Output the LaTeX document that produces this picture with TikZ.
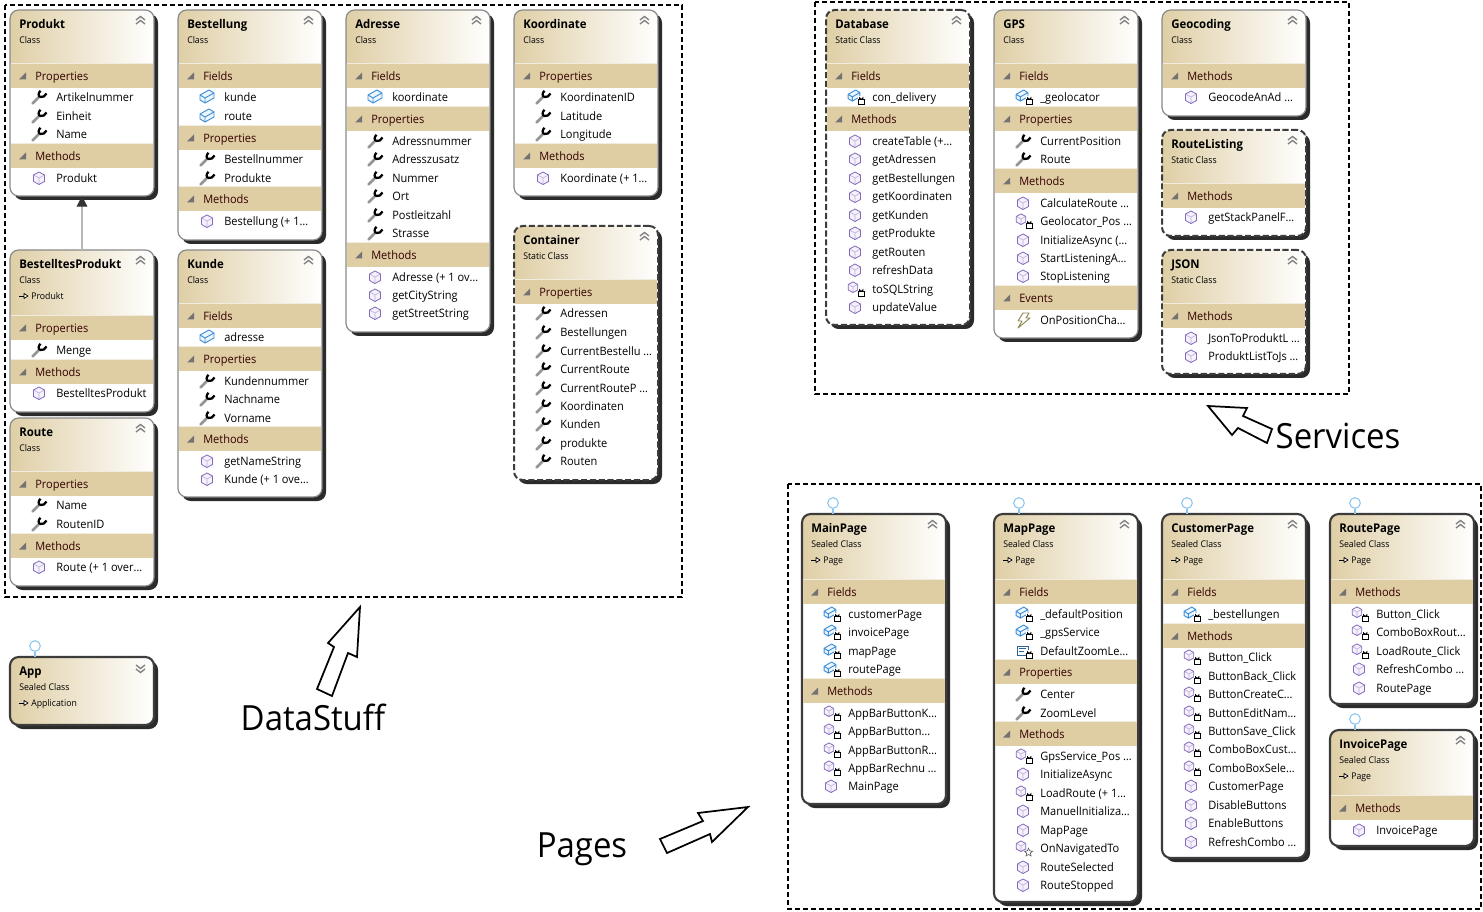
\documentclass[tikz,border=0pt]{standalone}
\usepackage{fontspec}
\setmainfont[FakeStretch=0.95]{Open Sans}
\usetikzlibrary{arrows.meta,shapes.geometric}
\definecolor{hdr}{HTML}{DFCFA6}
\definecolor{bar}{HTML}{DFCEA4}
\definecolor{barline}{HTML}{F1ECDD}
\definecolor{shad}{HTML}{2B2B2B}
\definecolor{edgeN}{HTML}{8A8A8A}
\definecolor{edgeS}{HTML}{3C3C3C}
\definecolor{cubeC}{HTML}{8468BC}
\definecolor{cubeF}{HTML}{F6F2FB}
\definecolor{fieldC}{HTML}{3F8FD8}
\definecolor{fieldF}{HTML}{EEF6FD}
\definecolor{lolC}{HTML}{8CC6F0}
\tikzset{
 ucnormal/.style={draw=edgeN,line width=.9pt},
 ucsealed/.style={draw=edgeS,line width=1.6pt},
 ucstatic/.style={draw=edgeS,line width=1.5pt,dash pattern=on 4.6pt off 2pt},
 frameline/.style={draw=black,line width=1.1pt,dash pattern=on 3.8pt off 2.2pt},
 bigarrow/.style={draw=black,line width=1.3pt,fill=white,line join=miter},
 titletext/.style={anchor=base west,inner sep=0,font=\fontsize{9pt}{10pt}\selectfont\bfseries},
 subtext/.style={anchor=base west,inner sep=0,font=\fontsize{6.9pt}{8pt}\selectfont},
 sectext/.style={anchor=base west,inner sep=0,text=black!80!red,font=\fontsize{8.7pt}{10pt}\selectfont},
 itemtext/.style={anchor=base west,inner sep=0,font=\fontsize{8.7pt}{10pt}\selectfont},
 bigtext/.style={inner sep=0,font=\fontsize{26pt}{30pt}\selectfont},
 lolli/.style={circle,draw=lolC,line width=.8pt,fill=white,minimum size=8pt,inner sep=0},
}
% icons (coordinates in px about the icon centre)
\newcommand\icoCube{%
 \fill[cubeF] (0,-6)--(5.5,-3)--(5.5,3.5)--(0,6.5)--(-5.5,3.5)--(-5.5,-3)--cycle;
 \draw[cubeC!55,line width=.45pt] (-5.5,-3)--(0,0)--(5.5,-3) (0,0)--(0,6.5);
 \draw[cubeC,line width=.6pt,line join=round] (0,-6)--(5.5,-3)--(5.5,3.5)--(0,6.5)--(-5.5,3.5)--(-5.5,-3)--cycle;}
\newcommand\icoField{%
 \fill[fieldF] (-7,-2)--(2,-7)--(7,-4)--(7,1)--(-2,6)--(-7,3)--cycle;
 \draw[fieldC,line width=.7pt,line join=round] (-7,-2)--(2,-7)--(7,-4)--(7,1)--(-2,6)--(-7,3)--cycle (-7,-2)--(-2,1)--(7,-4) (-2,1)--(-2,6);}
\newcommand\icoLock{%
 \fill[white] (2.5,-1) rectangle (10,8);
 \draw[black,line width=.7pt] (3.5,2) rectangle (9,7);
 \draw[black,line width=.65pt] (4.6,2)--(4.6,.8) arc[start angle=180,end angle=0,radius=1.65]--(7.9,2);}
\newcommand\ucrw[4]{\begin{scope}[shift={(#2+29,#3)}]
 \draw[black!42,line width=1.9pt,line cap=round] (-6.5,6.5)--(-.5,.5);
 \draw[black,line width=1.7pt] (1.5,-6.2) .. controls (-1,-4) and (-1,-.5) .. (1.5,0) .. controls (4,.8) and (6,-1) .. (7.5,-3.5);
 \end{scope}\uclabel{#1}{#2}{#3}{#4}}
\newcommand\ucrm[4]{\begin{scope}[shift={(#2+29,#3)}]\icoCube\end{scope}\uclabel{#1}{#2}{#3}{#4}}
\newcommand\ucrf[4]{\begin{scope}[shift={(#2+29,#3)}]\icoField\end{scope}\uclabel{#1}{#2}{#3}{#4}}
\newcommand\ucrfp[4]{\begin{scope}[shift={(#2+28,#3-1)},scale=.85]\icoField\end{scope}\begin{scope}[shift={(#2+29,#3)}]\icoLock\end{scope}\uclabel{#1}{#2}{#3}{#4}}
\newcommand\ucrmp[4]{\begin{scope}[shift={(#2+27,#3-2)},scale=.85]\icoCube\end{scope}\begin{scope}[shift={(#2+29,#3)}]\icoLock\end{scope}\uclabel{#1}{#2}{#3}{#4}}
\newcommand\ucrmo[4]{\begin{scope}[shift={(#2+27,#3-2)},scale=.85]\icoCube\end{scope}\begin{scope}[shift={(#2+29,#3)}]
 \node[star,star points=5,star point ratio=2.2,draw=black!65,fill=white,line width=.45pt,inner sep=0,minimum size=6.5pt] (#1-star) at (5.5,4.5) {};\end{scope}\uclabel{#1}{#2}{#3}{#4}}
\newcommand\ucrcp[4]{\begin{scope}[shift={(#2+29,#3)}]
 \draw[fieldC!70!black,line width=.7pt] (-6,-5) rectangle (5,4);
 \draw[fieldC!70!black,line width=.6pt] (-4,-2.5)--(3,-2.5) (-4,.5)--(1,.5);\icoLock\end{scope}\uclabel{#1}{#2}{#3}{#4}}
\newcommand\ucre[4]{\begin{scope}[shift={(#2+29,#3)}]
 \draw[black!55!yellow!80!brown,line width=.7pt,line join=round] (0,-7)--(6,-7)--(3,-2)--(7,-2)--(-5,8)--(-1,1)--(-5,1)--cycle;
 \end{scope}\uclabel{#1}{#2}{#3}{#4}}
\newcommand\uclabel[4]{\node[itemtext] (#1-#3) at (#2+46,#3+4.6) {#4};}
\newcommand\ucrS[4]{%
 \fill[bar] (#2+1,#3-12) rectangle (#2+143,#3+12);
 \fill[barline] (#2+1,#3-13.2) rectangle (#2+143,#3-11.8);
 \fill[black!55] (#2+9,#3+3.5)--(#2+16,#3+3.5)--(#2+16,#3-3.5)--cycle;
 \node[sectext] (#1-#3) at (#2+25,#3+4.6) {#4};}
\newcommand\ucrows[3]{\foreach \kk/\yy/\tx in {#3}{\csname ucr\kk\endcsname{#1}{#2}{\yy}{\tx}}}
% box: id, x1, y1, y2, header bottom, title, sub, parent, kind
\newcommand\ucbox[9]{%
 \fill[shad,rounded corners=6.5pt] (#2+4,#3+4) rectangle (#2+148,#4+4);
 \begin{scope}
  \clip[rounded corners=6.5pt] (#2,#3) rectangle (#2+144,#4);
  \fill[white] (#2,#3) rectangle (#2+144,#4);
  \shade[left color=hdr,right color=white] (#2,#3) rectangle (#2+144,#5);
 \end{scope}
 \node[#9,rounded corners=6.5pt,inner sep=0,outer sep=0,minimum width=108pt,minimum height={(#4-#3)*0.75pt}] (#1) at (#2+72,{(#3+#4)/2}) {};
 \node[titletext] (#1-title) at (#2+9,#3+18.6) {#6};
 \node[subtext] (#1-sub) at (#2+9,#3+33.5) {#7};
 \if\relax\detokenize{#8}\relax\else
  \draw[black,line width=.55pt] (#2+9,#3+46)--(#2+14,#3+46);
  \draw[black,line width=.55pt,fill=white,line join=round] (#2+14,#3+43.5)--(#2+18,#3+46)--(#2+14,#3+48.5)--cycle;
  \node[subtext] (#1-parent) at (#2+21,#3+49.5) {#8};
 \fi
 \ifnum#4=#5\relax
  \draw[black!50,line width=1pt] (#2+126,#3+8)--(#2+130.5,#3+11.5)--(#2+135,#3+8) (#2+126,#3+12)--(#2+130.5,#3+15.5)--(#2+135,#3+12);
 \else
  \draw[black!50,line width=1pt] (#2+126,#3+10)--(#2+130.5,#3+6.5)--(#2+135,#3+10) (#2+126,#3+14)--(#2+130.5,#3+10.5)--(#2+135,#3+14);
 \fi
}
\newcommand\uclolli[3]{%
 \node[lolli] (#1-lol) at (#2,#3-11) {};
 \draw[lolC,line width=.8pt] (#1-lol.south)--(#2,#3);}
\begin{document}
\begin{tikzpicture}[x=.75pt,y=-.75pt]
\useasboundingbox (0,0) rectangle (1483,912);
\fill[white] (0,0) rectangle (1483,912);
% DataStuff
\ucbox{produkt}{10}{10}{196}{64}{Produkt}{Class}{}{ucnormal}
\ucrows{produkt}{10}{S/76/Properties,w/97/Artikelnummer,w/116/Einheit,w/134/Name,S/156/Methods,m/178/Produkt}
\ucbox{bestellung}{178}{10}{240}{64}{Bestellung}{Class}{}{ucnormal}
\ucrows{bestellung}{178}{S/76/Fields,f/97/kunde,f/116/route,S/138/Properties,w/159/Bestellnummer,w/178/Produkte,S/199/Methods,m/221/Bestellung (+ 1…}
\ucbox{adresse}{346}{10}{332}{64}{Adresse}{Class}{}{ucnormal}
\ucrows{adresse}{346}{S/76/Fields,f/97/koordinate,S/119/Properties,w/141/Adressnummer,w/159/Adresszusatz,w/178/Nummer,w/196/Ort,w/215/Postleitzahl,w/233/Strasse,S/255/Methods,m/277/Adresse (+ 1 ov…,m/295/getCityString,m/313/getStreetString}
\ucbox{koordinate}{514}{10}{196}{64}{Koordinate}{Class}{}{ucnormal}
\ucrows{koordinate}{514}{S/76/Properties,w/97/KoordinatenID,w/116/Latitude,w/134/Longitude,S/156/Methods,m/178/Koordinate (+ 1…}
\ucbox{bestelltes}{10}{250}{412}{316}{BestelltesProdukt}{Class}{Produkt}{ucnormal}
\ucrows{bestelltes}{10}{S/328/Properties,w/350/Menge,S/372/Methods,m/393/BestelltesProdukt}
\ucbox{kunde}{178}{250}{497}{304}{Kunde}{Class}{}{ucnormal}
\ucrows{kunde}{178}{S/316/Fields,f/337/adresse,S/359/Properties,w/381/Kundennummer,w/399/Nachname,w/418/Vorname,S/439/Methods,m/461/getNameString,m/479/Kunde (+ 1 ove…}
\ucbox{route}{10}{418}{586}{472}{Route}{Class}{}{ucnormal}
\ucrows{route}{10}{S/484/Properties,w/505/Name,w/524/RoutenID,S/546/Methods,m/567/Route (+ 1 over…}
\ucbox{container}{514}{226}{480}{280}{Container}{Static Class}{}{ucstatic}
\ucrows{container}{514}{S/292/Properties,w/313/Adressen,w/332/Bestellungen,w/351/CurrentBestellu …,w/369/CurrentRoute,w/388/CurrentRouteP …,w/406/Koordinaten,w/424/Kunden,w/443/produkte,w/461/Routen}
\draw[black!28,line width=.9pt,-{Triangle[length=8pt,width=8pt,fill=black!80,color=black!80]}] (bestelltes.north)--(produkt.south);
\path[frameline] (5,5) rectangle (682,597);
% App
\ucbox{app}{10}{657}{725}{725}{App}{Sealed Class}{Application}{ucsealed}
\uclolli{app}{35}{657}
% Services
\ucbox{database}{826}{10}{325}{64}{Database}{Static Class}{}{ucstatic}
\ucrows{database}{826}{S/76/Fields,fp/97/con\_delivery,S/119/Methods,m/141/createTable (+…,m/159/getAdressen,m/178/getBestellungen,m/196/getKoordinaten,m/215/getKunden,m/233/getProdukte,m/252/getRouten,m/270/refreshData,mp/289/toSQLString,m/307/updateValue}
\ucbox{gps}{994}{10}{338}{64}{GPS}{Class}{}{ucnormal}
\ucrows{gps}{994}{S/76/Fields,fp/97/\_geolocator,S/119/Properties,w/141/CurrentPosition,w/159/Route,S/181/Methods,m/203/CalculateRoute …,mp/221/Geolocator\_Pos …,m/240/InitializeAsync (…,m/258/StartListeningA…,m/276/StopListening,S/298/Events,e/320/OnPositionCha…}
\ucbox{geocoding}{1162}{10}{116}{64}{Geocoding}{Class}{}{ucnormal}
\ucrows{geocoding}{1162}{S/76/Methods,m/97/GeocodeAnAd …}
\ucbox{routelisting}{1162}{130}{236}{184}{RouteListing}{Static Class}{}{ucstatic}
\ucrows{routelisting}{1162}{S/196/Methods,m/217/getStackPanelF…}
\ucbox{json}{1162}{250}{374}{304}{JSON}{Static Class}{}{ucstatic}
\ucrows{json}{1162}{S/316/Methods,m/338/JsonToProduktL …,m/356/ProduktListToJs …}
\path[frameline] (815,2) rectangle (1349,394);
% Pages
\ucbox{mainpage}{802}{514}{804}{580}{MainPage}{Sealed Class}{Page}{ucsealed}
\ucrows{mainpage}{802}{S/592/Fields,fp/614/customerPage,fp/632/invoicePage,fp/651/mapPage,fp/669/routePage,S/691/Methods,mp/713/AppBarButtonK…,mp/731/AppBarButton…,mp/750/AppBarButtonR…,mp/768/AppBarRechnu …,m/786/MainPage}
\uclolli{mainpage}{833}{514}
\ucbox{mappage}{994}{514}{902}{580}{MapPage}{Sealed Class}{Page}{ucsealed}
\ucrows{mappage}{994}{S/592/Fields,fp/614/\_defaultPosition,fp/632/\_gpsService,cp/651/DefaultZoomLe…,S/672/Properties,w/694/Center,w/713/ZoomLevel,S/734/Methods,mp/756/GpsService\_Pos …,m/774/InitializeAsync,mp/793/LoadRoute (+ 1…,m/811/ManuelInitializa…,m/830/MapPage,mo/848/OnNavigatedTo,m/867/RouteSelected,m/885/RouteStopped}
\uclolli{mappage}{1019}{514}
\ucbox{customerpage}{1162}{514}{858}{580}{CustomerPage}{Sealed Class}{Page}{ucsealed}
\ucrows{customerpage}{1162}{S/592/Fields,fp/614/\_bestellungen,S/636/Methods,mp/657/Button\_Click,mp/676/ButtonBack\_Click,mp/694/ButtonCreateC…,mp/713/ButtonEditNam…,mp/731/ButtonSave\_Click,mp/749/ComboBoxCust…,mp/768/ComboBoxSele…,m/786/CustomerPage,m/805/DisableButtons,m/823/EnableButtons,m/842/RefreshCombo …}
\uclolli{customerpage}{1187}{514}
\ucbox{routepage}{1330}{514}{704}{580}{RoutePage}{Sealed Class}{Page}{ucsealed}
\ucrows{routepage}{1330}{S/592/Methods,mp/614/Button\_Click,mp/632/ComboBoxRout…,mp/651/LoadRoute\_Click,m/669/RefreshCombo …,m/688/RoutePage}
\uclolli{routepage}{1355}{514}
\ucbox{invoicepage}{1330}{730}{846}{796}{InvoicePage}{Sealed Class}{Page}{ucsealed}
\ucrows{invoicepage}{1330}{S/808/Methods,m/830/InvoicePage}
\uclolli{invoicepage}{1355}{730}
\path[frameline] (788,484) rectangle (1481,909);
% labels and big arrows
\draw[bigarrow] (360,607)--(357,657)--(348,653)--(332,696)--(317,689)--(334,647)--(328,643)--cycle;
\node[bigtext] (labeldata) at (313,717) {DataStuff};
\draw[bigarrow] (1208,406)--(1247,408)--(1243,416)--(1272,429)--(1267,443)--(1238,428)--(1232,435)--cycle;
\node[bigtext] (labelserv) at (1338,436) {Services};
\draw[bigarrow] (748,807)--(698,813)--(703,821)--(660,839)--(667,853)--(710,834)--(712,842)--cycle;
\node[bigtext] (labelpages) at (582,849) {Pages};
\end{tikzpicture}
\end{document}
